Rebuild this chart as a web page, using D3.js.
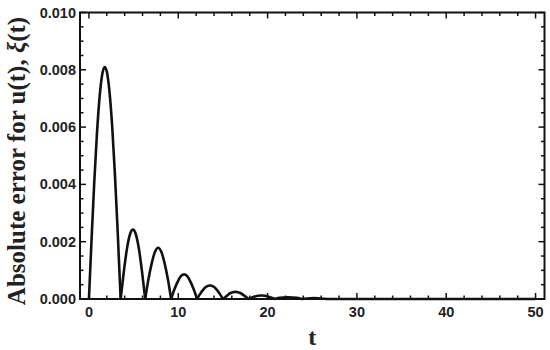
<!DOCTYPE html>
<html>
<head>
<meta charset="utf-8">
<title>Absolute error</title>
<script src="https://d3js.org/d3.v7.min.js"></script>
<style>
  body { margin: 0; background: white; }
  .tick-label { font-family: "Liberation Sans", Arial, sans-serif; font-weight: bold; font-size: 14.5px; fill: #222; }
  .axis-title { font-family: "Liberation Serif", "Times New Roman", serif; font-weight: bold; fill: #222; }
</style>
</head>
<body>
<div id="chart"></div>
<script>
// values; a 0 between humps marks a cusp
var tVals = [0, 0.3, 0.6, 0.9, 1.2, 1.5, 1.76, 2.0, 2.3, 2.6, 2.9, 3.2, 3.55,
  3.9, 4.25, 4.6, 4.92, 5.25, 5.6, 5.95, 6.3,
  6.65, 7.0, 7.4, 7.75, 8.1, 8.5, 8.85, 9.2,
  9.55, 9.9, 10.3, 10.65, 11.0, 11.4, 11.75, 12.1,
  12.45, 12.8, 13.2, 13.55, 13.9, 14.3, 14.65, 15.0,
  15.4, 15.8, 16.4, 17.0, 17.45, 17.9,
  18.4, 19.3, 20.2, 20.8,
  21.3, 22.3, 23.3, 23.8,
  24.4, 25.2, 26.0, 26.7,
  50];
var errVals = [0, 0.00212, 0.0041, 0.00579, 0.00707, 0.00786, 0.0081, 0.00794, 0.00724, 0.00604, 0.0044, 0.00248, 0,
  0.00094, 0.00174, 0.00226, 0.00242, 0.00226, 0.00174, 0.00094, 0,
  0.00067, 0.00121, 0.00165, 0.00179, 0.00165, 0.00121, 0.00067, 0,
  0.00032, 0.00058, 0.0008, 0.00086, 0.0008, 0.00058, 0.00032, 0,
  0.00018, 0.00033, 0.00044, 0.00047, 0.00044, 0.00033, 0.00018, 0,
  0.0001, 0.0002, 0.00025, 0.0002, 0.0001, 0,
  0.00007, 0.00012, 0.00007, 0,
  0.00004, 0.00006, 0.00004, 0,
  0.00002, 0.00003, 0.00002, 0,
  0];
var xTicks = [0, 10, 20, 30, 40, 50];
var yTicks = [0, 0.002, 0.004, 0.006, 0.008, 0.010];

var width = 550, height = 350;
// plot frame edges (avoid the name "top", it is window.top)
var pLeft = 80, pRight = 544.5, pTop = 12.5, pBottom = 299;

var svg = d3.select("#chart").append("svg")
  .attr("width", width)
  .attr("height", height);

var x = d3.scaleLinear().domain([-1, 51]).range([pLeft, pRight]);
var y = d3.scaleLinear().domain([0, 0.010]).range([pBottom, pTop]);

// split the series into humps at the interior zeros
var humps = [];
var cur = [];
tVals.forEach(function(t, i) {
  cur.push([t, errVals[i]]);
  if (errVals[i] === 0 && cur.length > 1) {
    humps.push(cur);
    cur = [[t, 0]];
  }
});

var line = d3.line()
  .x(function(d) { return x(d[0]); })
  .y(function(d) { return y(d[1]); })
  .curve(d3.curveMonotoneX);

svg.append("g").selectAll("path")
  .data(humps)
  .join("path")
  .attr("d", line)
  .attr("fill", "none")
  .attr("stroke", "#111")
  .attr("stroke-width", 2.6)
  .attr("stroke-linejoin", "round");

// frame ticks (pointing inward on all four sides)
var xMinor = d3.range(0, 51, 2).filter(function(v) { return v % 10 !== 0; });
var yMinor = d3.range(0, 0.0101, 0.0005).filter(function(v) { return Math.abs(v / 0.002 - Math.round(v / 0.002)) > 1e-6; });

var tickG = svg.append("g").attr("stroke", "#111").attr("stroke-width", 1.5);
function xTick(v, len) {
  tickG.append("line").attr("x1", x(v)).attr("x2", x(v)).attr("y1", pBottom).attr("y2", pBottom - len);
  tickG.append("line").attr("x1", x(v)).attr("x2", x(v)).attr("y1", pTop).attr("y2", pTop + len);
}
function yTick(v, len) {
  tickG.append("line").attr("y1", y(v)).attr("y2", y(v)).attr("x1", pLeft).attr("x2", pLeft + len);
  tickG.append("line").attr("y1", y(v)).attr("y2", y(v)).attr("x1", pRight).attr("x2", pRight - len);
}
xTicks.forEach(function(v) { xTick(v, 6); });
xMinor.forEach(function(v) { xTick(v, 3.5); });
yTicks.forEach(function(v) { yTick(v, 6); });
yMinor.forEach(function(v) { yTick(v, 3.5); });

svg.append("rect")
  .attr("x", pLeft).attr("y", pTop)
  .attr("width", pRight - pLeft).attr("height", pBottom - pTop)
  .attr("fill", "none")
  .attr("stroke", "#111")
  .attr("stroke-width", 2);

// tick labels
svg.append("g").selectAll("text")
  .data(xTicks)
  .join("text")
  .attr("class", "tick-label")
  .attr("x", function(d) { return x(d); })
  .attr("y", pBottom + 18)
  .attr("text-anchor", "middle")
  .text(function(d) { return d; });

svg.append("g").selectAll("text")
  .data(yTicks)
  .join("text")
  .attr("class", "tick-label")
  .attr("x", pLeft - 4)
  .attr("y", function(d) { return y(d) + 5; })
  .attr("text-anchor", "end")
  .text(function(d) { return d.toFixed(3); });

// axis titles
svg.append("text")
  .attr("class", "axis-title")
  .attr("x", (pLeft + pRight) / 2)
  .attr("y", 345)
  .attr("text-anchor", "middle")
  .style("font-size", "24px")
  .text("t");

var yt = svg.append("text")
  .attr("class", "axis-title")
  .attr("transform", "translate(25," + 161 + ") rotate(-90)")
  .attr("text-anchor", "middle")
  .style("font-size", "25px");
yt.append("tspan").text("Absolute error for u(t), ");
yt.append("tspan").style("font-style", "italic").text("ξ");
yt.append("tspan").text("(t)");
</script>
</body>
</html>
